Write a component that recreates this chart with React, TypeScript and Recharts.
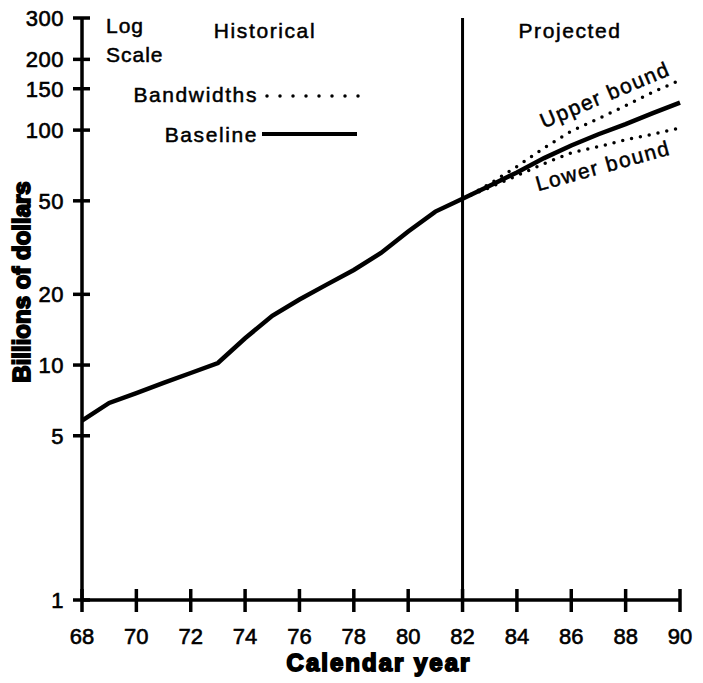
import { LineChart, Line, XAxis, YAxis, ReferenceLine } from 'recharts';

const years = [68, 69, 70, 71, 72, 73, 74, 75, 76, 77, 78, 79, 80, 81, 82, 83, 84, 85, 86, 87, 88, 89, 90];
const baseline = [5.8, 6.9, 7.6, 8.4, 9.25, 10.2, 13.0, 16.2, 19.0, 22.0, 25.4, 30, 37, 45, 51, 58, 66, 76, 86, 96, 106, 118, 131];
const upperBound = [null, null, null, null, null, null, null, null, null, null, null, null, null, null, 51, 59, 70, 84, 99, 112, 127, 145, 163];
const lowerBound = [null, null, null, null, null, null, null, null, null, null, null, null, null, null, 51, 57, 64, 72, 80, 85, 91, 96, 102];

const xTicks = [68, 70, 72, 74, 76, 78, 80, 82, 84, 86, 88, 90];
const yTicks = [1, 5, 10, 20, 50, 100, 150, 200, 300];
const splitYear = 82;

const FONT = '"Liberation Sans", Arial, Helvetica, sans-serif';

const data = years.map((year, i) => ({
  year,
  baseline: baseline[i],
  upper: upperBound[i],
  lower: lowerBound[i],
}));

function YTick(props: any) {
  const { x, y, payload } = props;
  return (
    <g>
      <line x1={x - 9} x2={x + 8} y1={y} y2={y} stroke="#000" strokeWidth={3.5} />
      <text x={x - 18} y={y + 8} textAnchor="end" fontFamily={FONT} fontSize={22} letterSpacing={0.5} fill="#000" stroke="#000" strokeWidth={0.6}>
        {payload.value}
      </text>
    </g>
  );
}

function XTick(props: any) {
  const { x, y, payload } = props;
  return (
    <g>
      <line x1={x} x2={x} y1={y - 11} y2={y + 12} stroke="#000" strokeWidth={3.5} />
      <text x={x} y={y + 44} textAnchor="middle" fontFamily={FONT} fontSize={22} fill="#000" stroke="#000" strokeWidth={0.6}>
        {payload.value}
      </text>
    </g>
  );
}

const textStyle = { fontFamily: FONT, fontSize: 21, letterSpacing: 1.6, fill: '#000', stroke: '#000', strokeWidth: 0.5 };

export default function App() {
  return (
    <div style={{ position: 'absolute', left: 0, top: 0, width: 703, height: 683, background: '#fff' }}>
      <LineChart width={703} height={683} data={data} margin={{ top: 18, right: 23, left: 0, bottom: 0 }}>
        <XAxis
          dataKey="year"
          type="number"
          domain={[68, 90]}
          ticks={xTicks}
          height={83}
          tickSize={0}
          tickMargin={0}
          tickLine={false}
          axisLine={{ stroke: '#000', strokeWidth: 3.5 }}
          tick={<XTick />}
          interval={0}
        />
        <YAxis
          scale="log"
          domain={[1, 300]}
          ticks={yTicks}
          width={82}
          tickSize={0}
          tickMargin={0}
          tickLine={false}
          axisLine={{ stroke: '#000', strokeWidth: 3.5 }}
          tick={<YTick />}
          interval={0}
          allowDataOverflow
        />
        <ReferenceLine x={splitYear} stroke="#000" strokeWidth={3} />
        <Line
          dataKey="upper"
          stroke="#000"
          strokeWidth={3.5}
          strokeDasharray="0 9"
          strokeLinecap="round"
          dot={false}
          connectNulls={false}
          isAnimationActive={false}
        />
        <Line
          dataKey="lower"
          stroke="#000"
          strokeWidth={3.5}
          strokeDasharray="0 9"
          strokeLinecap="round"
          dot={false}
          connectNulls={false}
          isAnimationActive={false}
        />
        <Line
          dataKey="baseline"
          stroke="#000"
          strokeWidth={4.5}
          dot={false}
          isAnimationActive={false}
        />
      </LineChart>
      <svg width={703} height={683} style={{ position: 'absolute', left: 0, top: 0, pointerEvents: 'none' }}>
        <text x={106} y={33} {...textStyle} letterSpacing={1}>Log</text>
        <text x={106} y={62} {...textStyle} letterSpacing={1}>Scale</text>
        <text x={265} y={38} textAnchor="middle" {...textStyle}>Historical</text>
        <text x={570} y={38} textAnchor="middle" {...textStyle}>Projected</text>
        <text x={258} y={102} textAnchor="end" {...textStyle}>Bandwidths</text>
        <line x1={267} x2={359} y1={96} y2={96} stroke="#000" strokeWidth={3.5} strokeDasharray="0 13" strokeLinecap="round" />
        <text x={258} y={142} textAnchor="end" {...textStyle}>Baseline</text>
        <line x1={262} x2={357} y1={134} y2={134} stroke="#000" strokeWidth={4} />
        <text x={605} y={102} textAnchor="middle" {...textStyle} transform="rotate(-23 605 95)">Upper bound</text>
        <text x={603} y={173} textAnchor="middle" {...textStyle} transform="rotate(-15.5 603 166)">Lower bound</text>
        <text
          x={0}
          y={0}
          textAnchor="middle"
          fontFamily={FONT}
          fontSize={24}
          fontWeight="bold"
          stroke="#000"
          strokeWidth={1.8}
          fill="#000"
          transform="translate(30 282) rotate(-90)"
        >
          Billions of dollars
        </text>
        <text
          x={379}
          y={671}
          textAnchor="middle"
          fontFamily={FONT}
          fontSize={24}
          fontWeight="bold"
          letterSpacing={2}
          stroke="#000"
          strokeWidth={1.8}
          fill="#000"
        >
          Calendar year
        </text>
      </svg>
    </div>
  );
}
